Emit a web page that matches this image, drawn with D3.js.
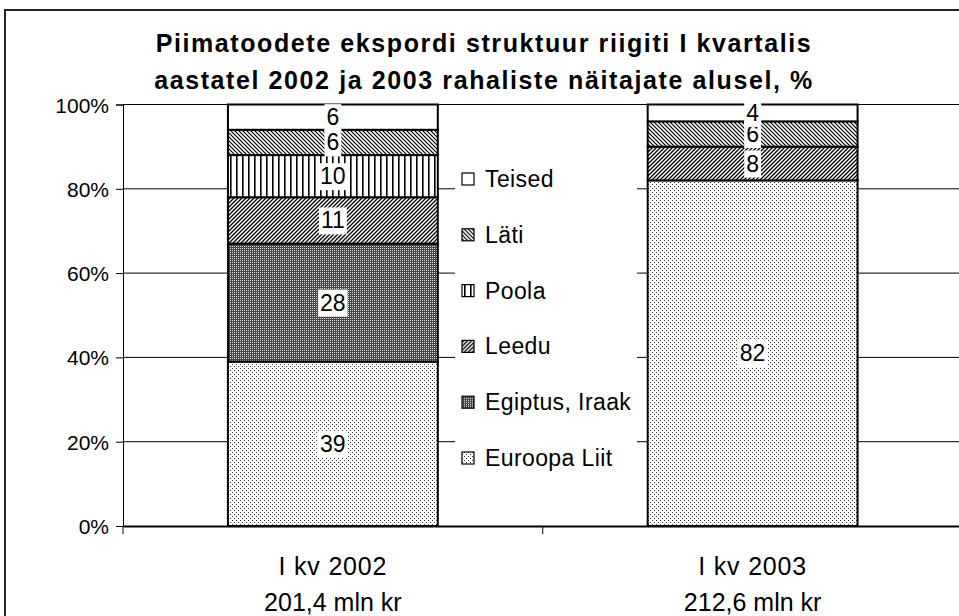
<!DOCTYPE html>
<html>
<head>
<meta charset="utf-8">
<script src="https://cdn.jsdelivr.net/npm/d3@7"></script>
<style>
  html, body { margin: 0; padding: 0; background: #fff; }
  svg { display: block; font-family: "Liberation Sans", Arial, sans-serif; }
</style>
</head>
<body>
<div id="chart"></div>
<script>
const categories = ["I kv 2002", "I kv 2003"];
const categorySubLabels = ["201,4 mln kr", "212,6 mln kr"];
const seriesNames = ["Euroopa Liit", "Egiptus, Iraak", "Leedu", "Poola", "Läti", "Teised"];
const euroopaLiit = [39, 82];
const egiptusIraak = [28, 0];
const leedu = [11, 8];
const poola = [10, 0];
const lati = [6, 6];
const teised = [6, 4];
const yTicks = [0, 20, 40, 60, 80, 100];
const titleLines = [
  "Piimatoodete ekspordi struktuur riigiti I kvartalis",
  "aastatel 2002 ja 2003 rahaliste näitajate alusel, %",
];

const seriesValues = [euroopaLiit, egiptusIraak, leedu, poola, lati, teised];
const patternIds = ["pEL", "pEg", "pLe", "pPo", "pLa", "pTe"];

const width = 959;
const height = 616;
const plot = { left: 123, right: 962.5, top: 104.5, bottom: 526 };

const svg = d3.select("#chart")
  .append("svg")
  .attr("width", width)
  .attr("height", height)
  .attr("viewBox", [0, 0, width, height]);

// fill patterns
const defs = svg.append("defs");

const dots = defs.append("pattern").attr("id", "pEL")
  .attr("patternUnits", "userSpaceOnUse").attr("width", 4).attr("height", 4);
dots.append("rect").attr("width", 4).attr("height", 4).attr("fill", "#fff");
dots.append("rect").attr("x", 0).attr("y", 0).attr("width", 1).attr("height", 1).attr("fill", "#333");
dots.append("rect").attr("x", 2).attr("y", 2).attr("width", 1).attr("height", 1).attr("fill", "#333");

const dark = defs.append("pattern").attr("id", "pEg")
  .attr("patternUnits", "userSpaceOnUse").attr("width", 2).attr("height", 2);
dark.append("rect").attr("width", 2).attr("height", 2).attr("fill", "#444");
dark.append("rect").attr("width", 1).attr("height", 1).attr("fill", "#e0e0e0");

const up = defs.append("pattern").attr("id", "pLe")
  .attr("patternUnits", "userSpaceOnUse").attr("width", 4).attr("height", 4);
up.append("rect").attr("width", 4).attr("height", 4).attr("fill", "#fff");
up.append("path").attr("d", "M-1,1 l2,-2 M0,4 l4,-4 M3,5 l2,-2")
  .attr("stroke", "#000").attr("stroke-width", 1.3);

const vert = defs.append("pattern").attr("id", "pPo")
  .attr("patternUnits", "userSpaceOnUse").attr("width", 6).attr("height", 6);
vert.append("rect").attr("width", 6).attr("height", 6).attr("fill", "#fff");
vert.append("rect").attr("x", 2).attr("width", 1.6).attr("height", 6).attr("fill", "#000");

const down = defs.append("pattern").attr("id", "pLa")
  .attr("patternUnits", "userSpaceOnUse").attr("width", 4).attr("height", 4);
down.append("rect").attr("width", 4).attr("height", 4).attr("fill", "#fff");
down.append("path").attr("d", "M-1,3 l2,2 M0,0 l4,4 M3,-1 l2,2")
  .attr("stroke", "#000").attr("stroke-width", 1.2);

defs.append("pattern").attr("id", "pTe")
  .attr("patternUnits", "userSpaceOnUse").attr("width", 4).attr("height", 4)
  .append("rect").attr("width", 4).attr("height", 4).attr("fill", "#fff");

// outer frame
svg.append("path")
  .attr("d", `M5,${height + 2} V10 H${width + 2}`)
  .attr("fill", "none")
  .attr("stroke", "#222")
  .attr("stroke-width", 2);

// title
svg.append("g")
  .selectAll("text")
  .data(titleLines)
  .join("text")
  .attr("x", 484)
  .attr("y", (d, i) => 52 + i * 37)
  .attr("text-anchor", "middle")
  .attr("font-size", 25)
  .attr("font-weight", "bold")
  .attr("letter-spacing", 1.6)
  .text((d) => d);

const x = d3.scaleBand()
  .domain(categories)
  .range([plot.left, plot.right])
  .paddingInner(0)
  .paddingOuter(0);

const barWidth = x.bandwidth() * 0.5;

const y = d3.scaleLinear()
  .domain([0, 100])
  .range([plot.bottom, plot.top]);

// gridlines
svg.append("g")
  .selectAll("line")
  .data(yTicks.filter((t) => t > 0))
  .join("line")
  .attr("x1", plot.left)
  .attr("x2", width)
  .attr("y1", (d) => y(d))
  .attr("y2", (d) => y(d))
  .attr("stroke", "#000")
  .attr("stroke-width", 1);

// y axis
svg.append("g")
  .attr("transform", `translate(${plot.left},0)`)
  .call(d3.axisLeft(y).tickValues(yTicks).tickSize(7).tickPadding(7).tickFormat((d) => d + "%"))
  .call((axis) => axis.select(".domain").attr("stroke-width", 1))
  .call((axis) => axis.selectAll(".tick text")
    .attr("fill", "#000")
    .attr("dy", "0.36em")
    .style("font-size", "21px")
    .style("font-family", "'Liberation Sans', Arial, sans-serif"));

// stacked bars
const stackData = categories.map((c, i) => {
  const row = { category: c };
  seriesNames.forEach((s, j) => { row[s] = seriesValues[j][i]; });
  return row;
});
const stacked = d3.stack().keys(seriesNames)(stackData);

const barLayer = svg.append("g");
stacked.forEach((layer, j) => {
  barLayer.append("g")
    .selectAll("rect")
    .data(layer.filter((d) => d[1] - d[0] > 0))
    .join("rect")
    .attr("x", (d) => x(d.data.category) + (x.bandwidth() - barWidth) / 2)
    .attr("width", barWidth)
    .attr("y", (d) => y(d[1]))
    .attr("height", (d) => y(d[0]) - y(d[1]))
    .attr("fill", `url(#${patternIds[j]})`)
    .attr("stroke", "#000")
    .attr("stroke-width", 2);
});

// x axis
svg.append("g")
  .attr("transform", `translate(0,${plot.bottom})`)
  .call(d3.axisBottom(x).tickValues([]).tickSizeOuter(0))
  .call((axis) => axis.select(".domain").attr("stroke-width", 2));

svg.append("g")
  .selectAll("line")
  .data(categories)
  .join("line")
  .attr("x1", (d) => x(d))
  .attr("x2", (d) => x(d))
  .attr("y1", plot.bottom)
  .attr("y2", plot.bottom + 8)
  .attr("stroke", "#000");

svg.append("g")
  .selectAll("text")
  .data(categories)
  .join("text")
  .attr("x", (d) => x(d) + x.bandwidth() / 2)
  .attr("y", 575)
  .attr("text-anchor", "middle")
  .attr("font-size", 25)
  .attr("letter-spacing", 0.8)
  .text((d) => d);

svg.append("g")
  .selectAll("text")
  .data(categorySubLabels)
  .join("text")
  .attr("x", (d, i) => x(categories[i]) + x.bandwidth() / 2)
  .attr("y", 611)
  .attr("text-anchor", "middle")
  .attr("font-size", 25)
  .text((d) => d);

// data labels with white boxes
const labelLayer = svg.append("g");
stacked.forEach((layer) => {
  layer.filter((d) => d[1] - d[0] > 0).forEach((d) => {
    const cx = x(d.data.category) + x.bandwidth() / 2;
    const cy = y((d[0] + d[1]) / 2);
    const label = String(d[1] - d[0]);
    const g = labelLayer.append("g");
    const t = g.append("text")
      .attr("x", cx)
      .attr("y", cy + 8)
      .attr("text-anchor", "middle")
      .attr("font-size", 23)
      .text(label);
    const box = t.node().getBBox();
    g.insert("rect", "text")
      .attr("x", box.x - 2)
      .attr("y", cy - 13)
      .attr("width", box.width + 4)
      .attr("height", 27)
      .attr("fill", "#fff");
  });
});

// legend
const legendX = 462;
const legendTop = 179;
const legendStep = 55.8;
const legend = svg.append("g");
legend.append("rect")
  .attr("x", 455)
  .attr("y", 158)
  .attr("width", 182)
  .attr("height", 322)
  .attr("fill", "#fff");

const legendItems = seriesNames.map((name, j) => ({ name, pattern: patternIds[j] })).reverse();
const item = legend.selectAll("g.item")
  .data(legendItems)
  .join("g")
  .attr("class", "item")
  .attr("transform", (d, i) => `translate(${legendX},${legendTop + i * legendStep})`);

item.append("rect")
  .attr("x", 0)
  .attr("y", -6)
  .attr("width", 12)
  .attr("height", 12)
  .attr("fill", (d) => `url(#${d.pattern})`)
  .attr("stroke", "#000")
  .attr("stroke-width", 1.2);

item.append("text")
  .attr("x", 23)
  .attr("y", 8)
  .attr("font-size", 23)
  .attr("letter-spacing", 0.4)
  .text((d) => d.name);
</script>
</body>
</html>
